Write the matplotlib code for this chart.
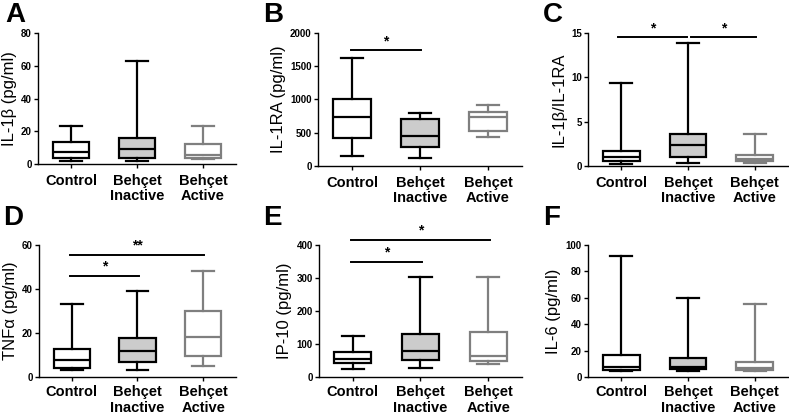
import matplotlib
matplotlib.use('Agg')
import matplotlib.pyplot as plt

plt.rcParams['font.family'] = ['Liberation Sans', 'DejaVu Sans']

groups = ['Control', 'Behçet\nInactive', 'Behçet\nActive']

# box stats per panel: whisker low, Q1, median, Q3, whisker high (Control, Inactive, Active)
il1b_low = [1.8, 2.0, 3.3]
il1b_q1 = [3.5, 3.5, 3.9]
il1b_med = [7.3, 9.4, 5.3]
il1b_q3 = [13.6, 15.9, 12.2]
il1b_high = [23.4, 63.1, 23.4]

il1ra_low = [146, 126, 438]
il1ra_q1 = [428, 287, 524]
il1ra_med = [730, 458, 730]
il1ra_q3 = [1013, 710, 816]
il1ra_high = [1622, 791, 917]

ratio_low = [0.23, 0.30, 0.38]
ratio_q1 = [0.60, 1.06, 0.60]
ratio_med = [1.06, 2.34, 0.83]
ratio_q3 = [1.66, 3.66, 1.25]
ratio_high = [9.33, 13.83, 3.59]

tnf_low = [3.0, 3.3, 5.0]
tnf_q1 = [3.9, 7.0, 9.7]
tnf_med = [7.6, 11.8, 18.4]
tnf_q3 = [12.7, 17.7, 30.1]
tnf_high = [33.4, 39.1, 48.2]

ip10_low = [23, 26, 40]
ip10_q1 = [41, 51, 47]
ip10_med = [55, 79, 65]
ip10_q3 = [77, 129, 137]
ip10_high = [123, 303, 303]

il6_low = [4.3, 4.3, 4.8]
il6_q1 = [5.5, 5.8, 5.3]
il6_med = [7.6, 7.6, 6.8]
il6_q3 = [16.6, 14.6, 11.3]
il6_high = [91.7, 60.0, 55.2]

# significance bars: (group from, group to, y, label)
sig_b = [(0, 1, 1738, '*')]
sig_c = [(-0.03, 0.97, 14.5, '*'), (1.06, 2.0, 14.5, '*')]
sig_d = [(0, 1, 46.1, '*'), (0, 2, 55.5, '**')]
sig_e = [(0, 1, 350, '*'), (0, 2, 416, '*')]

panels = [
    ('A', 'IL-1β (pg/ml)', (il1b_low, il1b_q1, il1b_med, il1b_q3, il1b_high), 80, 20, [],
     [0.0482, 0.6048, 0.251, 0.3157]),
    ('B', 'IL-1RA (pg/ml)', (il1ra_low, il1ra_q1, il1ra_med, il1ra_q3, il1ra_high), 2000, 500, sig_b,
     [0.403, 0.600, 0.2586, 0.3205]),
    ('C', 'IL-1β/IL-1RA', (ratio_low, ratio_q1, ratio_med, ratio_q3, ratio_high), 15, 5, sig_c,
     [0.7452, 0.600, 0.2535, 0.3205]),
    ('D', 'TNFα (pg/ml)', (tnf_low, tnf_q1, tnf_med, tnf_q3, tnf_high), 60, 20, sig_d,
     [0.0494, 0.0916, 0.2497, 0.318]),
    ('E', 'IP-10 (pg/ml)', (ip10_low, ip10_q1, ip10_med, ip10_q3, ip10_high), 400, 100, sig_e,
     [0.4043, 0.0916, 0.2573, 0.318]),
    ('F', 'IL-6 (pg/ml)', (il6_low, il6_q1, il6_med, il6_q3, il6_high), 100, 20, [],
     [0.7452, 0.0916, 0.2535, 0.318]),
]

letter_pos = {'A': (0.007, 0.965), 'B': (0.333, 0.965), 'C': (0.688, 0.965),
              'D': (0.004, 0.475), 'E': (0.333, 0.475), 'F': (0.688, 0.475)}

edge_cols = ['black', 'black', '#7f7f7f']
face_cols = ['white', '#cccccc', 'white']

fig = plt.figure(figsize=(7.89, 4.15), dpi=100)

for letter, ylab, stats, ymax, ystep, sigs, rect in panels:
    ax = fig.add_axes(rect)
    low, q1, med, q3, high = stats
    for i in range(3):
        st = [dict(whislo=low[i], q1=q1[i], med=med[i], q3=q3[i], whishi=high[i], fliers=[])]
        col = edge_cols[i]
        ax.bxp(st, positions=[i], widths=0.55, patch_artist=True, showfliers=False,
               boxprops=dict(facecolor=face_cols[i], edgecolor=col, linewidth=1.6),
               medianprops=dict(color=col, linewidth=1.6),
               whiskerprops=dict(color=col, linewidth=1.6),
               capprops=dict(color=col, linewidth=1.6),
               capwidths=0.33)
    ax.set_xlim(-0.5, 2.5)
    ax.set_ylim(0, ymax)
    ax.set_yticks(range(0, ymax + 1, ystep))
    ax.set_xticks([0, 1, 2])
    ax.set_xticklabels(groups, fontsize=10.5, fontweight='bold', linespacing=1.12)
    for t in ax.get_yticklabels():
        t.set_fontsize(7)
        t.set_fontweight('bold')
    ax.tick_params(axis='both', length=3, width=1.0, pad=1.5)
    ax.tick_params(axis='x', pad=4 if rect[1] > 0.5 else 3)
    ax.spines['top'].set_visible(False)
    ax.spines['right'].set_visible(False)
    ax.spines['left'].set_linewidth(1.0)
    ax.spines['bottom'].set_linewidth(1.0)
    ax.set_ylabel(ylab, fontsize=12, labelpad=3)

    for x0, x1, y, lab in sigs:
        ax.plot([x0 - 0.02, x1 + 0.02], [y, y], color='black', linewidth=1.4, clip_on=False)
        ax.text((x0 + x1) / 2, y + ymax * 0.015, lab, ha='center', va='bottom',
                fontsize=10, fontweight='bold', clip_on=False)

    fx, fy = letter_pos[letter]
    fig.text(fx, fy, letter, fontsize=20, fontweight='bold', va='center', ha='left')

fig.savefig('out.png', dpi=100)
